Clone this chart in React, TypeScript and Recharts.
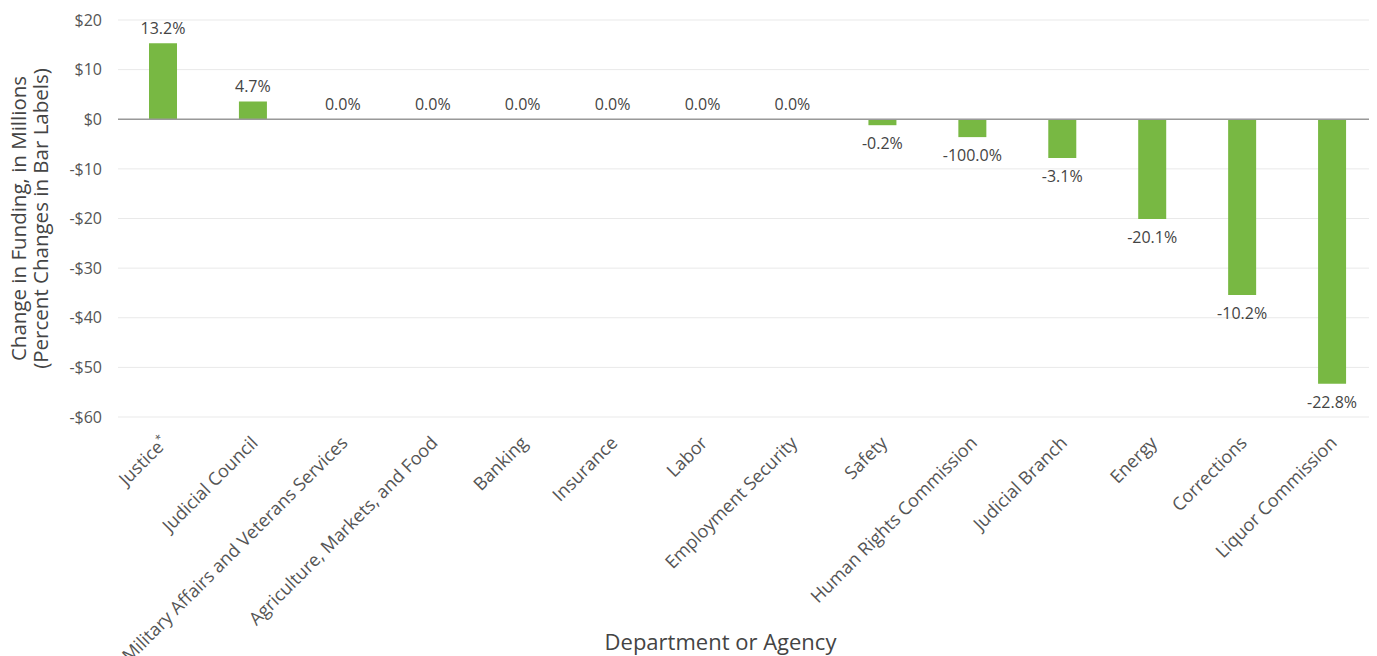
import { ComposedChart, Bar, Line, XAxis, YAxis, CartesianGrid, ReferenceLine } from "recharts";

const departments = [
  "Justice*",
  "Judicial Council",
  "Military Affairs and Veterans Services",
  "Agriculture, Markets, and Food",
  "Banking",
  "Insurance",
  "Labor",
  "Employment Security",
  "Safety",
  "Human Rights Commission",
  "Judicial Branch",
  "Energy",
  "Corrections",
  "Liquor Commission",
];

const changeMillions = [15.3, 3.6, 0, 0, 0, 0, 0, 0, -1.2, -3.6, -7.8, -20.1, -35.4, -53.3];

const pctLabels = [
  "13.2%", "4.7%", "0.0%", "0.0%", "0.0%", "0.0%", "0.0%", "0.0%",
  "-0.2%", "-100.0%", "-3.1%", "-20.1%", "-10.2%", "-22.8%",
];

const yTicks = [20, 10, 0, -10, -20, -30, -40, -50, -60];

const data = departments.map((d, i) => ({ dept: d, amount: changeMillions[i], pct: pctLabels[i] }));

const FONT = "'Open Sans', sans-serif";
const GREEN = "#78b843";

const fmtMoney = (v: number) => (v < 0 ? `-$${Math.abs(v)}` : `$${v}`);

const DeptTick = (props: any) => {
  const { x, y, payload } = props;
  const txt: string = payload.value;
  const star = txt.endsWith("*");
  return (
    <g transform={`translate(${x + 6},${y + 19})`}>
      <text transform="rotate(-45)" textAnchor="end" fill="#555" fontSize={18} fontFamily={FONT}>
        {star ? txt.slice(0, -1) : txt}
        {star && (
          <tspan fontSize={11} dy={-7}>
            *
          </tspan>
        )}
      </text>
    </g>
  );
};

// percent labels drawn at each bar's end point
const PctDot = (props: any) => {
  const { cx, cy, payload } = props;
  if (cx == null || cy == null) return null;
  const ty = payload.amount < 0 ? cy + 24 : cy - 9;
  return (
    <text key={payload.dept} x={cx} y={ty} textAnchor="middle" fill="#444" fontSize={16} fontFamily={FONT}>
      {payload.pct}
    </text>
  );
};

const YTitle = (props: any) => {
  const { viewBox } = props;
  const cy = viewBox.y + viewBox.height / 2;
  return (
    <g>
      <text transform={`translate(18,${cy}) rotate(-90)`} textAnchor="middle" fill="#444" fontSize={20.5} fontFamily={FONT} dominantBaseline="central">
        Change in Funding, in Millions
      </text>
      <text transform={`translate(40,${cy}) rotate(-90)`} textAnchor="middle" fill="#444" fontSize={20.5} fontFamily={FONT} dominantBaseline="central">
        (Percent Changes in Bar Labels)
      </text>
    </g>
  );
};

export default function App() {
  return (
    <div style={{ width: 1377, height: 656, marginLeft: -8, marginTop: -8, background: "#fff" }}>
      <ComposedChart
        width={1377}
        height={656}
        data={data}
        margin={{ top: 20, right: 0, left: 40, bottom: 4 }}
        barSize={28}
      >
        <CartesianGrid stroke="#e9e9e9" vertical={false} />
        <XAxis
          dataKey="dept"
          interval={0}
          axisLine={false}
          tickLine={false}
          height={235}
          tick={<DeptTick />}
          label={{
            value: "Department or Agency",
            position: "insideBottom",
            offset: 2,
            dx: -27,
            fill: "#444",
            fontSize: 22,
            fontFamily: FONT,
          }}
        />
        <YAxis
          width={78}
          domain={[-60, 20]}
          ticks={yTicks}
          axisLine={false}
          tickLine={false}
          tickFormatter={fmtMoney}
          tick={{ fill: "#555", fontSize: 16, fontFamily: FONT, dx: -8 }}
          label={<YTitle />}
        />
        <ReferenceLine y={0} stroke="#999" strokeWidth={1.5} />
        <Bar dataKey="amount" fill={GREEN} isAnimationActive={false} />
        <Line
          dataKey="amount"
          stroke="none"
          isAnimationActive={false}
          dot={<PctDot />}
          activeDot={false}
          legendType="none"
        />
      </ComposedChart>
    </div>
  );
}
